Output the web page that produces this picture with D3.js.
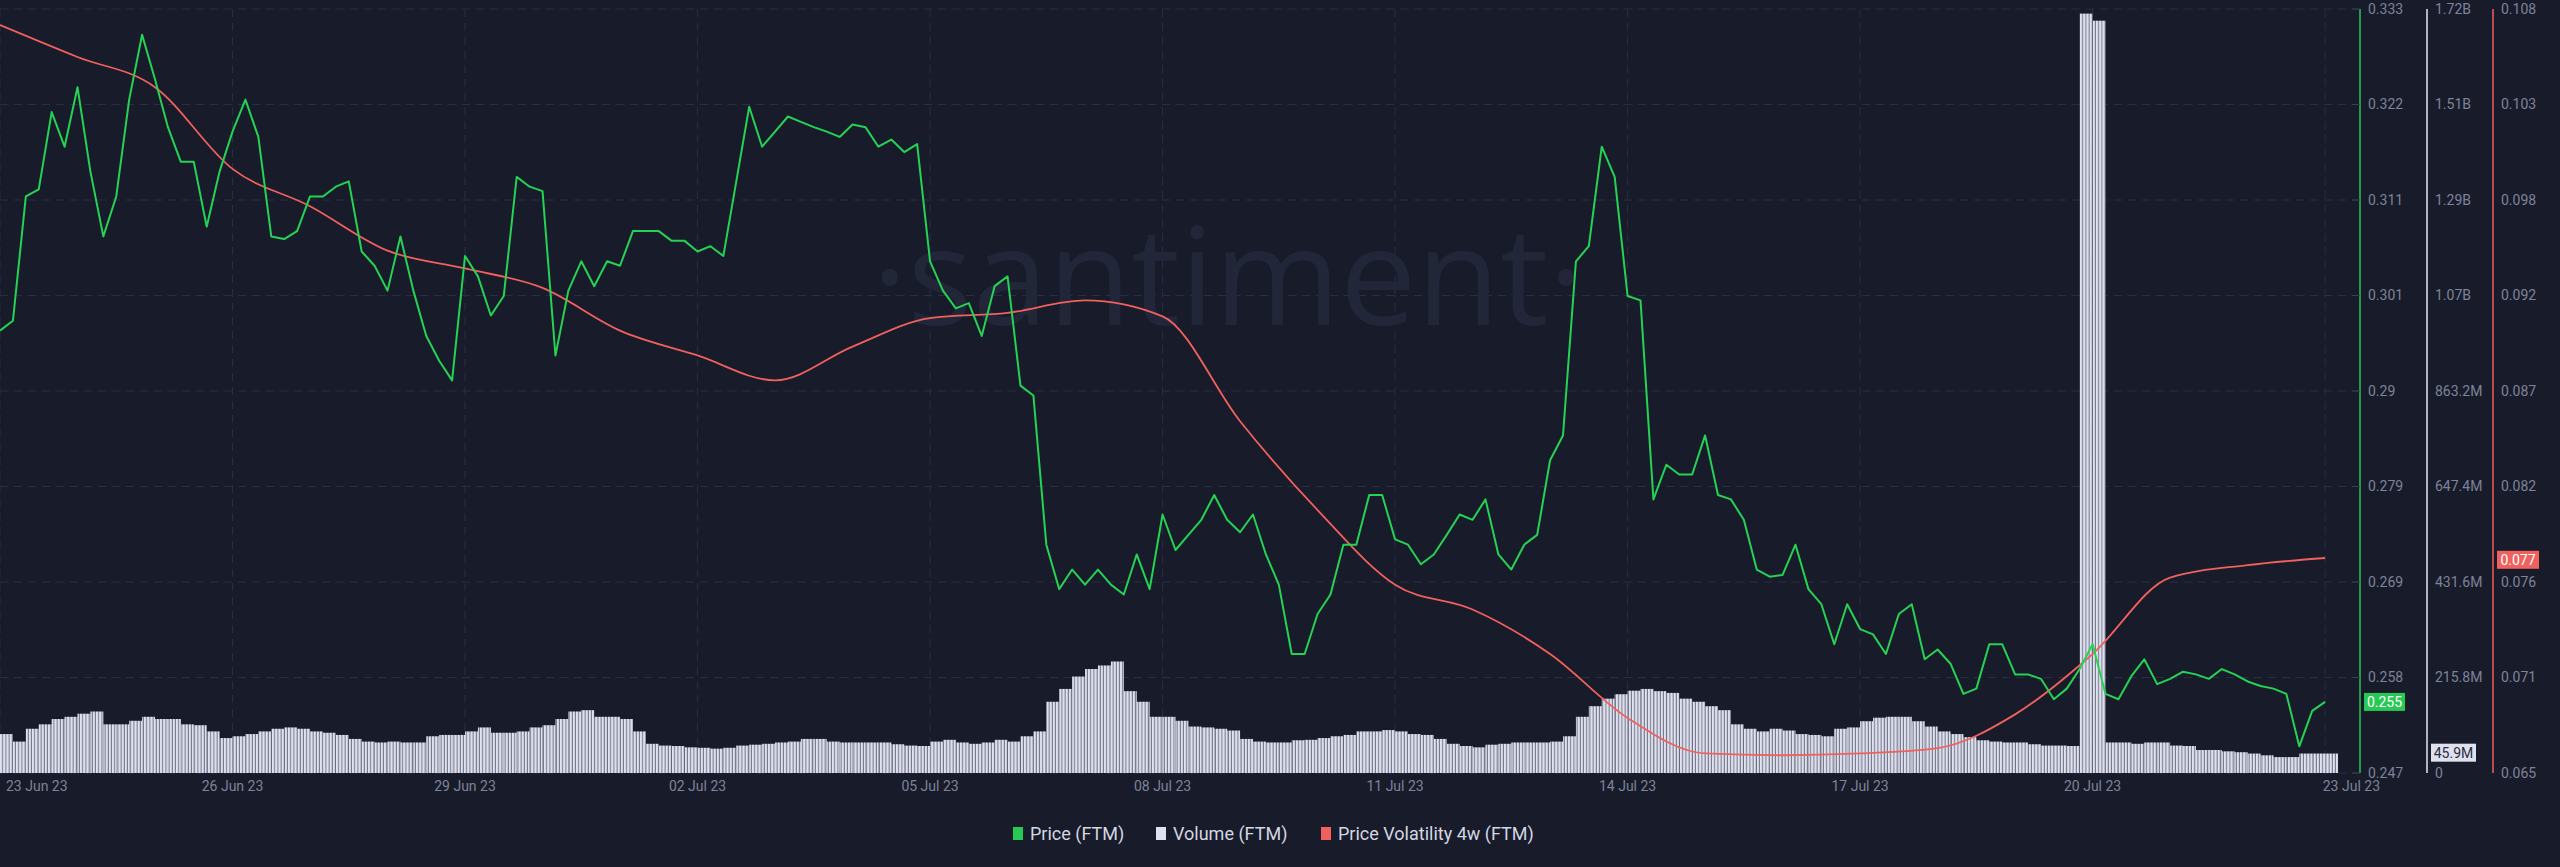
<!DOCTYPE html>
<html>
<head>
<meta charset="utf-8">
<title>FTM price, volume, volatility</title>
<style>
body{margin:0;background:#181b2a;}
text{font-family:Roboto,"Open Sans",sans-serif;}
</style>
</head>
<body>
<div id="container"></div>
<script src="https://cdn.jsdelivr.net/npm/d3@7"></script>
<script>
// 4-hourly samples starting 23 Jun 2023 00:00 UTC
var price = [
0.2968,0.2979,0.3119,0.3127,0.3214,0.3175,0.3242,0.3147,0.3074,0.3119,0.3228,0.3301,0.3251,0.3197,0.3158,0.3158,0.3085,0.3147,0.3192,
0.3228,0.3186,0.3074,0.3071,0.3080,0.3119,0.3119,0.3130,0.3136,0.3057,0.3041,0.3013,0.3074,0.3013,0.2962,0.2934,0.2912,0.3052,0.3029,0.2985,0.3007,0.3141,0.3130,0.3125,0.2940,0.3013,0.3046,0.3018,
0.3046,0.3041,0.3080,0.3080,0.3080,0.3069,0.3069,0.3057,0.3063,0.3052,0.3136,0.3220,0.3175,0.3192,0.3209,0.3203,0.3197,0.3192,0.3186,0.3200,0.3197,0.3175,0.3183,0.3169,0.3178,
0.3046,0.3013,0.2993,0.2999,0.2962,0.3018,0.3029,0.2906,0.2895,0.2727,0.2677,0.2699,0.2682,0.2699,0.2682,0.2671,0.2716,0.2677,0.2761,0.2721,
0.2738,0.2755,0.2783,0.2755,0.2741,0.2761,0.2716,0.2682,0.2604,0.2604,0.2649,0.2671,0.2727,0.2727,0.2783,0.2783,0.2733,0.2727,0.2705,0.2716,0.2738,0.2761,0.2755,0.2778,0.2716,0.2699,0.2727,0.2738,
0.2822,0.2850,0.3046,0.3063,0.3175,0.3141,0.3007,0.3002,0.2778,0.2817,0.2806,0.2806,0.2850,0.2783,0.2778,0.2755,0.2699,
0.2691,0.2693,0.2727,0.2677,0.2660,0.2615,0.2660,0.2632,0.2626,0.2604,0.2649,0.2660,0.2598,0.2609,0.2593,0.2559,0.2565,0.2615,0.2615,0.2581,0.2581,0.2576,0.2553,0.2565,
0.2587,0.2615,0.2559,0.2553,0.2579,0.2598,0.2570,0.2576,0.2584,0.2581,0.2576,0.2587,0.2581,0.2573,0.2568,0.2565,0.2559,0.2500,0.2540,0.2550
];
// volume in millions, same 4-hourly steps
var volume = [
88,71,100,110,122,127,134,139,110,110,118,127,122,122,110,108,94,79,83,88,94,100,103,100,94,91,86,77,71,69,71,69,69,83,86,86,94,103,91,91,94,103,108,122,139,142,127,
127,122,94,66,62,61,58,57,55,57,62,64,66,69,71,77,77,71,69,69,69,69,65,62,61,71,75,69,66,69,75,71,83,94,161,190,218,235,243,252,185,161,127,127,118,
105,103,100,96,77,71,69,69,74,75,79,83,86,94,94,97,94,88,86,77,66,61,58,64,66,69,69,69,71,83,127,151,168,178,186,190,185,181,168,161,151,142,110,100,94,
100,96,88,86,83,100,103,117,125,127,127,117,105,94,88,81,74,71,69,69,65,62,62,61,1716,1700,69,69,66,69,69,62,61,52,52,49,47,44,40,36,36,44,44,44
];
// daily samples
var volatility = [0.1071,0.1053,0.1036,0.0990,0.0969,0.0944,0.0934,0.0923,0.0899,0.0885,0.0871,0.0890,0.0906,0.0909,0.0916,0.0907,
0.0848,0.0798,0.0756,0.0742,0.0717,0.0681,0.0661,0.0660,0.0661,0.0664,0.0683,0.0717,0.0760,0.0767,0.0771];

var priceTicks = [0.247,0.258,0.269,0.279,0.29,0.301,0.311,0.322,0.333];
var volumeTicks = ["0","215.8M","431.6M","647.4M","863.2M","1.07B","1.29B","1.51B","1.72B"];
var volTicks = ["0.065","0.071","0.076","0.082","0.087","0.092","0.098","0.103","0.108"];
var dateTicks = ["2023-06-23","2023-06-26","2023-06-29","2023-07-02","2023-07-05","2023-07-08","2023-07-11","2023-07-14","2023-07-17","2023-07-20","2023-07-23"];
var legendItems = [["Price (FTM)","#26c953"],["Volume (FTM)","#dfe1ee"],["Price Volatility 4w (FTM)","#f0605d"]];

var W = 2560, H = 867, yTop = 9, yBot = 773, plotR = 2360;
var t0 = Date.UTC(2023,5,23);
var hour = 3600*1000;

var svg = d3.select("#container").append("svg").attr("width",W).attr("height",H);
svg.append("rect").attr("width",W).attr("height",H).attr("fill","#181b2a");

var x = d3.scaleUtc().domain([new Date(t0), new Date(t0 + 30.45*24*hour)]).range([0,plotR]);
var yP = d3.scaleLinear().domain([0.247,0.333]).range([yBot,yTop]);
var yV = d3.scaleLinear().domain([0,1726.4]).range([yBot,yTop]);
var yS = d3.scaleLinear().domain([0.065,0.108]).range([yBot,yTop]);

// stripe pattern for the volume bars
var pat = svg.append("defs").append("pattern").attr("id","stripes")
  .attr("width",3.2).attr("height",10).attr("patternUnits","userSpaceOnUse");
pat.append("rect").attr("width",3.2).attr("height",10).attr("fill","#6d7187");
pat.append("rect").attr("width",2.2).attr("height",10).attr("fill","#dfe1ee");

// grid
var gy = priceTicks.map(function(d,i){ return yTop + (yBot-yTop)*(8-i)/8; });
svg.append("g").selectAll("line").data(gy).join("line")
  .attr("x1",0).attr("x2",plotR).attr("y1",d=>d).attr("y2",d=>d)
  .attr("stroke","#2a2e42").attr("stroke-dasharray","8,6");
svg.append("g").selectAll("line").data(dateTicks).join("line")
  .attr("x1",d=>x(new Date(d))).attr("x2",d=>x(new Date(d)))
  .attr("y1",yTop).attr("y2",yBot)
  .attr("stroke","#2a2e42").attr("stroke-dasharray","8,6");

// watermark
svg.append("text").attr("x",1228).attr("y",325).attr("text-anchor","middle")
  .style("font-family","'Open Sans',sans-serif").style("font-size","136px")
  .attr("fill","#212639").text("·santiment·");

// volume bars
var bw = x(new Date(t0+4*hour)) - x(new Date(t0));
svg.append("g").selectAll("rect").data(volume).join("rect")
  .attr("x",(d,i)=>x(new Date(t0+i*4*hour)))
  .attr("width",bw)
  .attr("y",d=>yV(d)).attr("height",d=>yBot-yV(d))
  .attr("fill","url(#stripes)");

// volatility
svg.append("path").datum(volatility)
  .attr("fill","none").attr("stroke","#f0605d").attr("stroke-width",1.8)
  .attr("d", d3.line().curve(d3.curveMonotoneX)
    .x((d,i)=>x(new Date(t0+i*24*hour))).y(d=>yS(d)));

// price
svg.append("path").datum(price)
  .attr("fill","none").attr("stroke","#26d253").attr("stroke-width",2)
  .attr("stroke-linejoin","round")
  .attr("d", d3.line().x((d,i)=>x(new Date(t0+i*4*hour))).y(d=>yP(d)));

// right axes
var axes = [[2360,"#26c953",priceTicks.map(d3.format(".3~f"))],[2427,"#e6e7ef",volumeTicks],[2493,"#f0605d",volTicks]];
axes.forEach(function(a){
  svg.append("line").attr("x1",a[0]).attr("x2",a[0]).attr("y1",yTop).attr("y2",yBot)
    .attr("stroke",a[1]).attr("stroke-width",1.5);
  svg.append("g").selectAll("text").data(a[2]).join("text")
    .attr("x",a[0]+8).attr("y",(d,i)=>gy[i]).attr("dy","0.35em")
    .attr("fill","#7e8399").style("font-size","14px").text(d=>d);
});
svg.append("g").selectAll("line").data(gy).join("line")
  .attr("x1",2352).attr("x2",2360).attr("y1",d=>d).attr("y2",d=>d).attr("stroke","#3a3f55");

// value badges
function badge(xx, yy, w, txt, bg, fg){
  svg.append("rect").attr("x",xx).attr("y",yy-9).attr("width",w).attr("height",18).attr("fill",bg);
  svg.append("text").attr("x",xx+w/2).attr("y",yy).attr("dy","0.35em").attr("text-anchor","middle")
    .attr("fill",fg).style("font-size","14px").text(txt);
}
badge(2364, yP(0.255), 41, "0.255", "#26c953", "#ffffff");
badge(2431, yV(45.9), 45, "45.9M", "#dfe1ee", "#2a2e42");
badge(2497, yS(0.077), 42, "0.077", "#f0605d", "#ffffff");

// date labels
var fmt = d3.utcFormat("%d %b %y");
svg.append("g").selectAll("text").data(dateTicks).join("text")
  .attr("x",(d,i)=> i==0 ? 6 : (i==dateTicks.length-1 ? 2380 : x(new Date(d))))
  .attr("y",791)
  .attr("text-anchor",(d,i)=> i==0 ? "start" : (i==dateTicks.length-1 ? "end" : "middle"))
  .attr("fill","#7e8399").style("font-size","14px")
  .text(d=>fmt(new Date(d)));

// legend
var lx = [1013, 1156, 1321];
legendItems.forEach(function(d,i){
  svg.append("rect").attr("x",lx[i]).attr("y",827).attr("width",10).attr("height",13).attr("fill",d[1]);
  svg.append("text").attr("x",lx[i]+17).attr("y",834).attr("dy","0.35em")
    .attr("fill","#d4d6e2").style("font-size","18px").text(d[0]);
});
</script>
</body>
</html>
